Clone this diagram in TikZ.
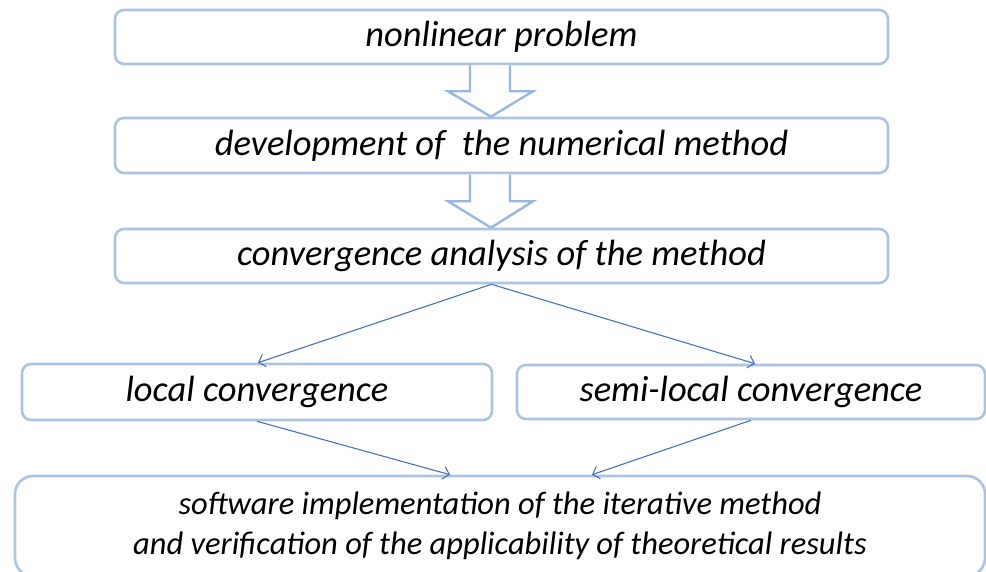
\documentclass[tikz,border=0pt]{standalone}
\usepackage{fontspec}
\setmainfont{Carlito}
\usetikzlibrary{arrows.meta,calc}
\definecolor{boxline}{RGB}{172,196,228}
\definecolor{blockarr}{RGB}{150,184,226}
\definecolor{conn}{RGB}{68,114,196}
\begin{document}
\begin{tikzpicture}[x=1pt,y=-1pt,
  stagebox/.style={draw=boxline, line width=2.6pt, rounded corners=9pt, inner sep=0pt,
    font=\fontsize{36.5}{44}\selectfont\itshape, align=center},
  blockarrow/.style={draw=blockarr, line width=2.4pt, fill=white, line join=miter},
  link/.style={draw=conn, line width=1.1pt, -{Straight Barb[length=6pt,width=13pt,line width=1.1pt]}}]
\useasboundingbox (0,0) rectangle (986,572);
\node[stagebox, minimum width=773pt, minimum height=54pt] (n1) at (501.5,37) {nonlinear problem};
\node[stagebox, minimum width=773pt, minimum height=55pt] (n2) at (501.5,145.5) {development of\ \ the numerical method};
\node[stagebox, minimum width=773pt, minimum height=54pt] (n3) at (501.5,256) {convergence analysis of the method};
\node[stagebox, minimum width=470pt, minimum height=56pt] (n4) at (257,392) {local convergence};
\node[stagebox, minimum width=468pt, minimum height=54pt] (n5) at (751,392) {semi-local convergence};
\node[stagebox, font=\fontsize{32.5}{40}\selectfont\itshape, rounded corners=18pt, minimum width=970pt, minimum height=100pt] (n6) at (500,526) {software implementation of the iterative method\\and verification of the applicability of theoretical results};
% block arrows
\draw[blockarrow] ($(n1.south)+(-31.5,0)$) -- ++(0,26) -- ++(-22,0) -- ($(n2.north)+(-10.5,0)$)
  -- ($(n1.south)+(31.5,26)$) -- ++(-23,0) -- ($(n1.south)+(8.5,0)$);
\draw[blockarrow] ($(n2.south)+(-31.5,0)$) -- ++(0,27) -- ++(-22,0) -- ($(n3.north)+(-10.5,0)$)
  -- ($(n2.south)+(31.5,27)$) -- ++(-23,0) -- ($(n2.south)+(8.5,0)$);
% connectors
\coordinate (n4top) at ($(n4.north)+(1,0)$);
\coordinate (n5top) at ($(n5.north)+(4,0)$);
\coordinate (n6l) at ($(n6.north)+(-50,0)$);
\coordinate (n6r) at ($(n6.north)+(92,0)$);
\draw[link] ($(n3.south)+(-10,0)$) -- (n4top);
\draw[link] ($(n3.south)+(-10,0)$) -- (n5top);
\draw[link] (n4.south) -- (n6l);
\draw[link] (n5.south) -- (n6r);
\end{tikzpicture}
\end{document}
